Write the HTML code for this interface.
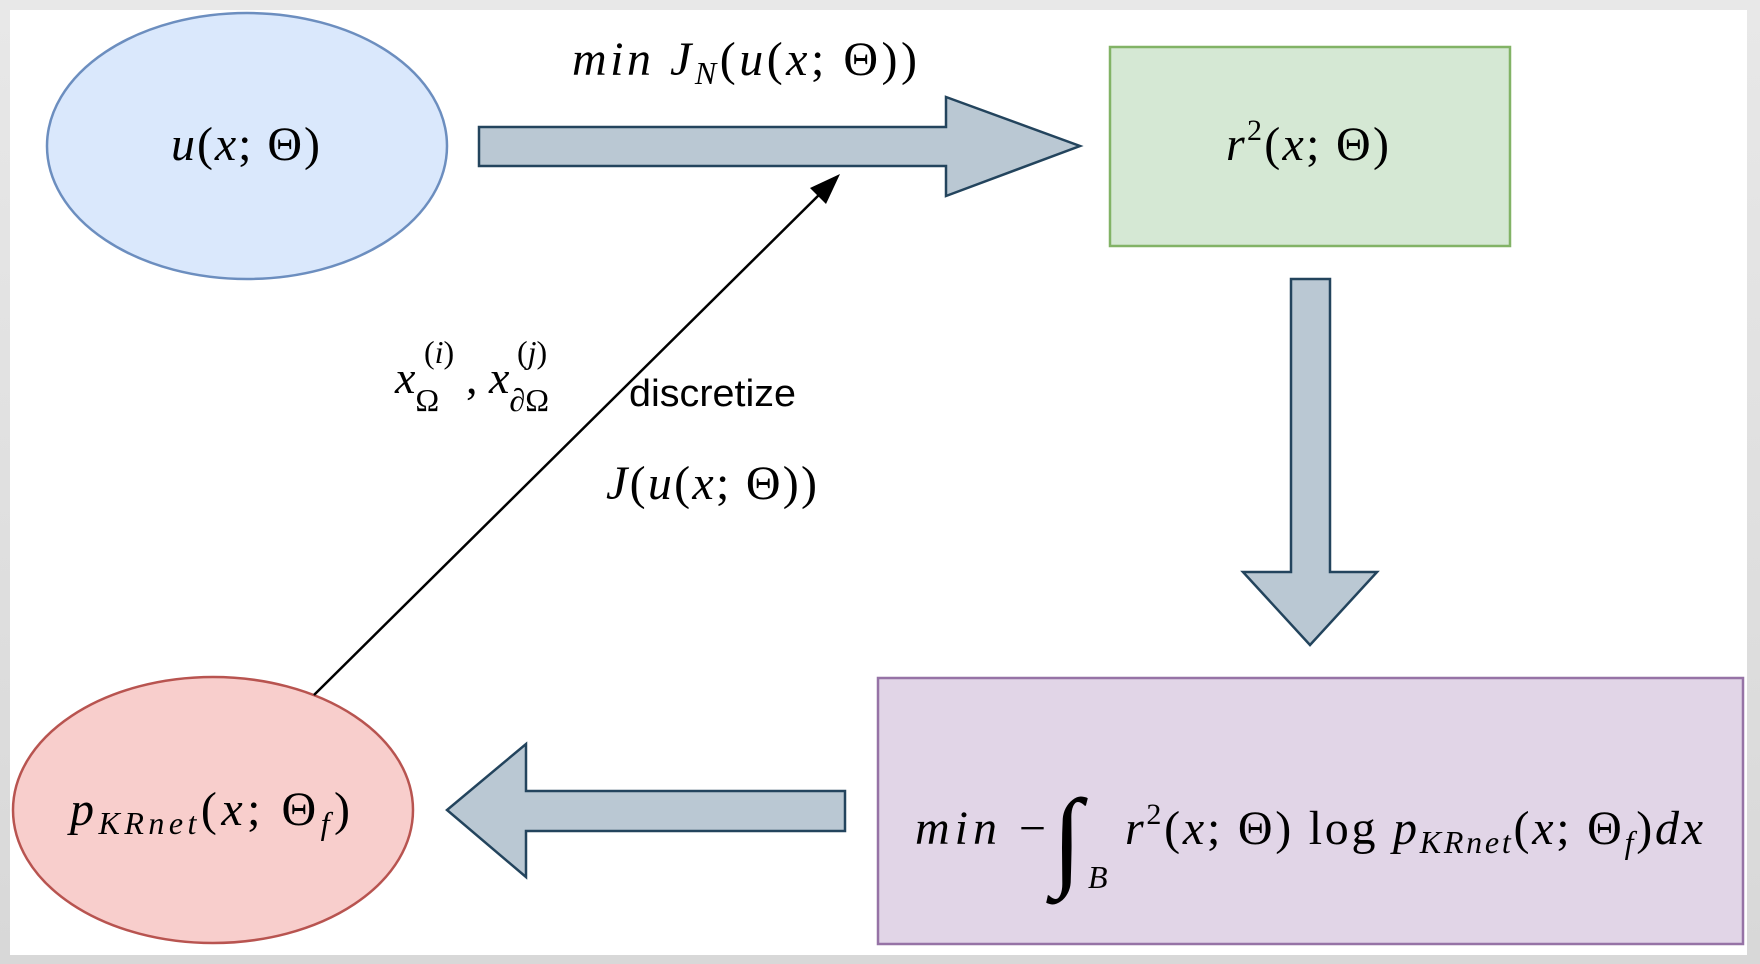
<!DOCTYPE html>
<html><head><meta charset="utf-8"><style>
html,body{margin:0;padding:0;background:#e4e4e4;}
svg{display:block}
.m{font-family:"Liberation Serif","DejaVu Serif",serif;font-style:italic;fill:#000}
.r{font-style:normal}
</style></head><body>
<svg width="1760" height="964" viewBox="0 0 1760 964" xmlns="http://www.w3.org/2000/svg">
<defs><linearGradient id="g" x1="0" y1="0" x2="0" y2="1"><stop offset="0" stop-color="#e8e8e8"/><stop offset="1" stop-color="#d8d8d8"/></linearGradient></defs>
<rect width="1760" height="964" fill="url(#g)"/>
<rect x="10" y="10" width="1737" height="945" fill="#fff"/>
<ellipse cx="247" cy="146" rx="200" ry="133" fill="#dae8fc" stroke="#6c8ebf" stroke-width="2.5"/>
<ellipse cx="213" cy="810" rx="200" ry="133" fill="#f8cecc" stroke="#b85450" stroke-width="2.5"/>
<rect x="1110" y="47" width="400" height="199" fill="#d5e8d4" stroke="#82b366" stroke-width="2.5"/>
<rect x="878" y="678" width="865" height="266" fill="#e1d5e7" stroke="#9673a6" stroke-width="2.5"/>
<polygon points="479,127 946,127 946,97 1080,146 946,196 946,166 479,166" fill="#bac8d3" stroke="#23445d" stroke-width="2.5"/>
<polygon points="1291,279 1330,279 1330,572 1377,572 1310,645 1243,572 1291,572" fill="#bac8d3" stroke="#23445d" stroke-width="2.5"/>
<polygon points="845,791 526,791 526,744 447,810 526,877 526,831 845,831" fill="#bac8d3" stroke="#23445d" stroke-width="2.5"/>
<line x1="314" y1="695" x2="830" y2="184" stroke="#000" stroke-width="2.5"/>
<polygon points="840,174 826,204 810,188" fill="#000"/>
<text class="m" x="171" y="160" font-size="48" textLength="149" lengthAdjust="spacing">u<tspan class="r">(</tspan>x<tspan class="r">; Θ)</tspan></text>
<text class="m" x="1226" y="160" font-size="48" textLength="163" lengthAdjust="spacing">r<tspan class="r" font-size="30" dy="-20">2</tspan><tspan class="r" dy="20">(</tspan>x<tspan class="r">; Θ)</tspan></text>
<text class="m" x="572" y="75" font-size="48" textLength="345" lengthAdjust="spacing">min J<tspan font-size="32" dy="9">N</tspan><tspan class="r" dy="-9">(</tspan>u<tspan class="r">(</tspan>x<tspan class="r">; Θ))</tspan></text>
<text class="m" x="70" y="825" font-size="48" textLength="280" lengthAdjust="spacing">p<tspan font-size="32" dy="9">KRnet</tspan><tspan class="r" dy="-9">(</tspan>x<tspan class="r">; Θ</tspan><tspan font-size="32" dy="9">f</tspan><tspan class="r" dy="-9">)</tspan></text>
<text class="m" x="915" y="844" font-size="48" textLength="131" lengthAdjust="spacing">min <tspan class="r">−</tspan></text>
<text class="m r" x="1052" y="875" font-size="110" style="font-style:normal">∫</text>
<text class="m" x="1088" y="888" font-size="32">B</text>
<text class="m" x="1125" y="844" font-size="48" textLength="578" lengthAdjust="spacing">r<tspan class="r" font-size="30" dy="-20">2</tspan><tspan class="r" dy="20">(</tspan>x<tspan class="r">; Θ) log </tspan>p<tspan font-size="32" dy="9">KRnet</tspan><tspan class="r" dy="-9">(</tspan>x<tspan class="r">; Θ</tspan><tspan font-size="32" dy="9">f</tspan><tspan class="r" dy="-9">)</tspan>dx</text>
<text x="629" y="406" font-family="Liberation Sans, sans-serif" font-size="38" fill="#000" textLength="167" lengthAdjust="spacingAndGlyphs">discretize</text>
<text class="m" x="606" y="499" font-size="48" textLength="211" lengthAdjust="spacing">J<tspan class="r">(</tspan>u<tspan class="r">(</tspan>x<tspan class="r">; Θ))</tspan></text>
<text class="m" x="395" y="393" font-size="46">x<tspan font-size="32" dy="18" class="r">Ω</tspan></text>
<text class="m" x="424" y="363" font-size="32"><tspan class="r">(</tspan>i<tspan class="r">)</tspan></text>
<text class="m" x="466" y="393" font-size="46"><tspan class="r">,</tspan></text>
<text class="m" x="489" y="393" font-size="46">x<tspan font-size="32" dy="18" class="r">∂Ω</tspan></text>
<text class="m" x="517" y="363" font-size="32"><tspan class="r">(</tspan>j<tspan class="r">)</tspan></text>
</svg>
</body></html>
